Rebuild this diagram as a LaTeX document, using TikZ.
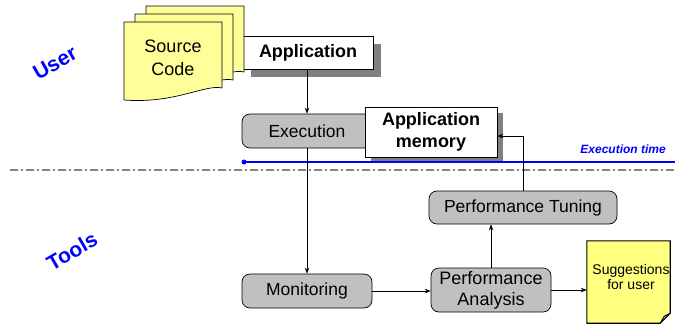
\documentclass[tikz,border=0pt]{standalone}
\usepackage{fontspec}
\setmainfont{Liberation Sans}
\usetikzlibrary{arrows.meta,shadows,calc}
\definecolor{boxgray}{HTML}{C0C0C0}
\definecolor{pageyellow}{HTML}{FFFF99}
\definecolor{noteyellow}{HTML}{FFFF80}
\definecolor{shadowgray}{HTML}{808080}
\definecolor{userblue}{HTML}{0000FF}
\begin{document}
\begin{tikzpicture}[x=1pt,y=-1pt,
  proc/.style={draw=black, fill=boxgray, rounded corners=8pt, line width=0.7pt,
    minimum width=130pt, minimum height=34pt, inner sep=0pt, align=center,
    font=\fontsize{17.5}{21}\selectfont},
  databox/.style={draw=black, fill=white, line width=0.7pt, inner sep=0pt, align=center,
    font=\bfseries\fontsize{18}{22}\selectfont},
  shadowed/.style={drop shadow={shadow xshift=#1, shadow yshift=-#1, fill=shadowgray, opacity=1}},
  pagestyle/.style={draw=black, fill=pageyellow, line width=0.7pt},
  arr/.style={-{Stealth[length=6pt,width=4.5pt]}, line width=0.7pt, draw=black},
  sidelabel/.style={text=userblue, font=\bfseries\fontsize{21}{24}\selectfont, rotate=30}
]
\useasboundingbox (0,0) rectangle (675,327);

% separator line
\draw[shadowgray, line width=1.4pt, dash pattern=on 8pt off 3pt on 2pt off 3pt] (10,170) -- (675,170);

% application box (behind pages)
\node[databox, shadowed=8pt, minimum width=130pt, minimum height=33pt] (app) at (308,52.5) {Application};

% source code pages
\draw[pagestyle, shift={(22,-16)}] (124,22) -- (222,22) -- (222,88) .. controls (205,84) and (175,104) .. (124,100) -- cycle;
\draw[pagestyle, shift={(11,-8)}] (124,22) -- (222,22) -- (222,88) .. controls (205,84) and (175,104) .. (124,100) -- cycle;
\draw[pagestyle] (124,22) -- (222,22) -- (222,88) .. controls (205,84) and (175,104) .. (124,100) -- cycle;
\node[align=center, font=\fontsize{18}{23}\selectfont, inner sep=0pt] (src) at (173,58) {Source\\Code};

% side labels
\node[sidelabel] (user) at (55,63) {User};
\node[sidelabel] (tools) at (72,251) {Tools};

% process boxes
\node[proc] (exec) at (307,131) {Execution};
\node[databox, shadowed=6pt, minimum width=132pt, minimum height=50pt] (mem) at (431,132) {Application\\memory};
\node[proc, minimum width=188pt, minimum height=33pt] (tune) at (523,207.5) {Performance Tuning};
\node[proc] (mon) at (307,291) {Monitoring};
\node[proc, minimum width=120pt, minimum height=44pt, font=\fontsize{18}{21}\selectfont] (ana) at (491,290) {Performance\\Analysis};

% suggestions note
\node[minimum width=83pt, minimum height=82pt, inner sep=0pt] (note) at (628.5,282) {};
\draw[fill=noteyellow, line width=1.1pt] (note.north west) -- (note.north east) -- ($(note.south east)+(0,-10)$) -- ($(note.south east)+(-10,0)$) -- (note.south west) -- cycle;
\draw[fill=gray!60, line width=0.8pt, line join=round] ($(note.south east)+(0,-10)$) -- ($(note.south east)+(-10,0)$) -- ($(note.south east)+(-6,-7)$) -- cycle;
\node[align=center, font=\fontsize{14}{15}\selectfont, inner sep=0pt] (sugg) at (631,277) {Suggestions\\for user};

% execution timeline
\fill[userblue] (244,162) circle (2.5pt) coordinate (tstart);
\coordinate (tend) at (675,162);
\draw[userblue, line width=1.4pt] (tstart) -- (tend);
\node[text=userblue, font=\bfseries\itshape\fontsize{12}{14}\selectfont, anchor=base east, inner sep=0pt] (etime) at (666,153) {Execution time};

% connectors
\draw[arr] (app.south -| exec.north) -- (exec.north);
\draw[arr] (exec.south) -- (mon.north);
\draw[arr] (mon.east) -- (mon.east -| ana.west);
\draw[arr] (ana.north) -- (ana.north |- tune.south);
\draw[arr] (tune.north) |- ([yshift=-4pt]mem.east);
\draw[arr] (ana.east) -- (ana.east -| note.west);
\end{tikzpicture}
\end{document}
